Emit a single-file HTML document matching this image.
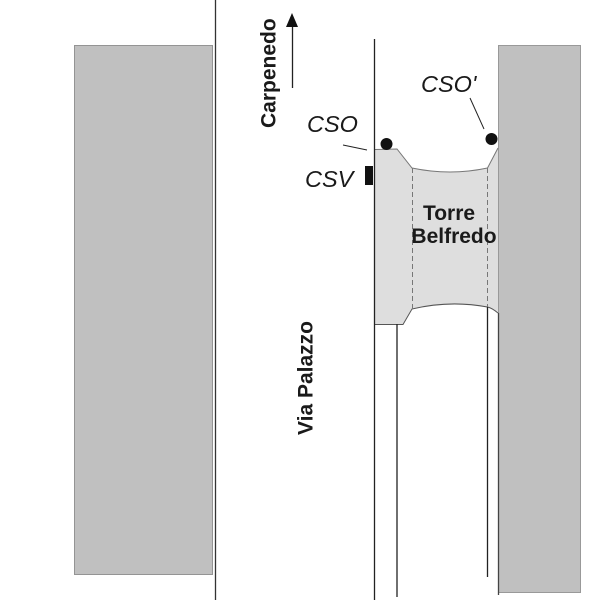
<!DOCTYPE html>
<html>
<head>
<meta charset="utf-8">
<style>
html,body{margin:0;padding:0;background:#fff;width:600px;height:600px;overflow:hidden}
svg{display:block}
text{font-family:"Liberation Sans",sans-serif;fill:#1a1a1a}
.b{font-weight:bold;font-size:21px}
.i{font-style:italic;font-size:23.5px}
</style>
</head>
<body>
<svg width="600" height="600" viewBox="0 0 600 600" xmlns="http://www.w3.org/2000/svg">
<rect x="74.5" y="45.5" width="138" height="529" fill="#c0c0c0" stroke="#949494" stroke-width="1"/>
<rect x="498.5" y="45.5" width="82" height="547" fill="#c0c0c0" stroke="#999" stroke-width="1"/>
<line x1="215.5" y1="0" x2="215.5" y2="600" stroke="#333" stroke-width="1.3"/>

<path d="M375 149.5 L397 149 L412 168 Q450 176 487.5 168 L498 148 L498 312 Q492 308 487.5 307 Q450 300 412 309 L403 324.5 L375 324.5 Z" fill="#dedede"/>
<path d="M375 149.5 L397 149 L412 168 Q450 176 487.5 168 L498 148" fill="none" stroke="#777" stroke-width="1"/>
<path d="M498 313 Q492 308 487.5 307 Q450 300 412 309 L403 324.5 L375 324.5" fill="none" stroke="#555" stroke-width="1"/>
<line x1="412.5" y1="168" x2="412.5" y2="309" stroke="#777" stroke-width="1" stroke-dasharray="5 3"/>
<line x1="487.5" y1="168" x2="487.5" y2="307" stroke="#777" stroke-width="1" stroke-dasharray="5 3"/>

<line x1="374.5" y1="39" x2="374.5" y2="600" stroke="#222" stroke-width="1.3"/>
<line x1="397" y1="324" x2="397" y2="597" stroke="#222" stroke-width="1.3"/>
<line x1="487.5" y1="307" x2="487.5" y2="577" stroke="#222" stroke-width="1.3"/>
<line x1="498.5" y1="313" x2="498.5" y2="595" stroke="#444" stroke-width="1.3"/>

<circle cx="386.5" cy="144" r="6" fill="#111"/>
<circle cx="491.5" cy="139" r="6" fill="#111"/>
<rect x="365" y="166" width="8" height="19" fill="#111"/>

<line x1="343" y1="145" x2="367" y2="150" stroke="#222" stroke-width="1"/>
<line x1="470" y1="98" x2="484" y2="129" stroke="#222" stroke-width="1"/>

<line x1="292.5" y1="88" x2="292.5" y2="24" stroke="#222" stroke-width="1.3"/>
<polygon points="292,13 298,27 286,27" fill="#111"/>

<text class="i" x="307" y="132">CSO</text>
<text class="i" x="305" y="187">CSV</text>
<text class="i" x="421" y="92">CSO'</text>

<text class="b" x="449" y="220" text-anchor="middle">Torre</text>
<text class="b" x="454" y="243" text-anchor="middle">Belfredo</text>

<text class="b" transform="translate(275.5 128) rotate(-90)">Carpenedo</text>
<text class="b" transform="translate(312.5 435) rotate(-90)">Via Palazzo</text>
</svg>
</body>
</html>
